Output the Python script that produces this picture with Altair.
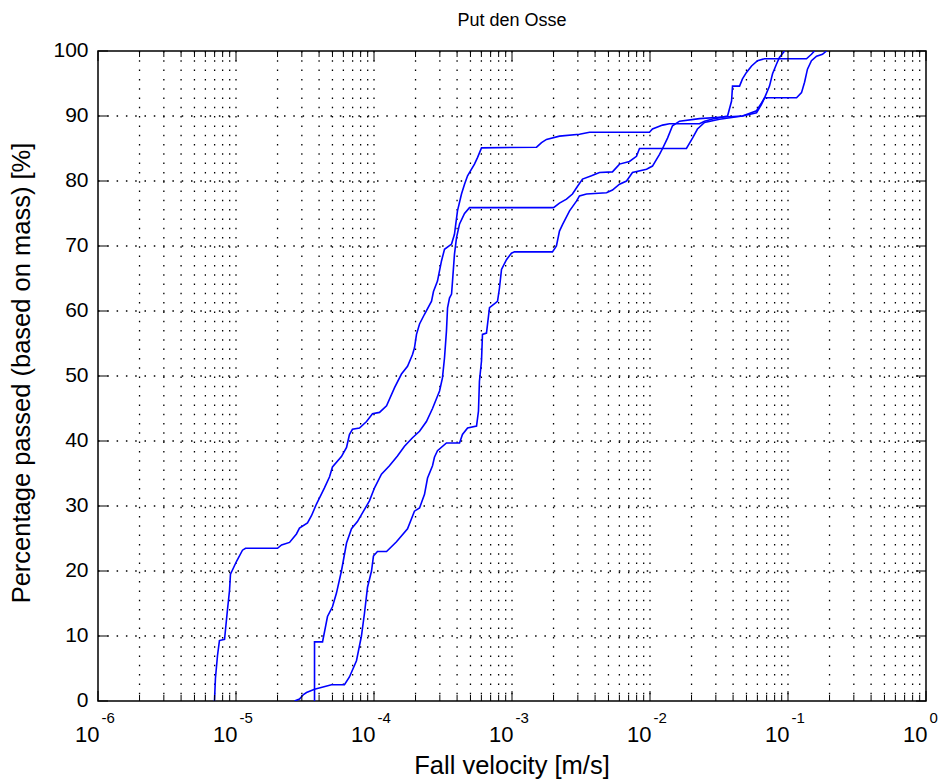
import altair as alt
import pandas as pd

# ---- data (log10 of fall velocity [m/s], percentage passed [%]) ----
a_log_v = [-5.156, -5.149, -5.134, -5.120, -5.083, -5.076, -5.062, -5.047, -5.040, -5.018, -4.996, -4.953,
           -4.931, -4.699, -4.670, -4.612, -4.562, -4.540, -4.482, -4.453, -4.417, -4.359, -4.322, -4.301,
           -4.236, -4.199, -4.178, -4.156, -4.105, -4.054, -4.011, -3.960, -3.909, -3.851, -3.801, -3.757,
           -3.721, -3.707, -3.692, -3.670, -3.634, -3.583, -3.569, -3.540, -3.511, -3.489, -3.438, -3.417,
           -3.395, -3.366, -3.344, -3.322, -3.272, -3.250, -3.221, -2.822, -2.786, -2.750, -2.656, -2.511,
           -2.438, -2.004, -1.982, -1.909, -1.859, -1.641, -1.605, -1.533, -1.438, -1.409, -1.402, -1.351,
           -1.330, -1.301, -1.264, -1.221, -1.170, -0.866, -0.830, -0.808]
a_pct = [0, 3.5, 7, 9.3, 9.5, 11, 14, 17, 19.5, 20.5, 21.5, 23.2,
         23.5, 23.5, 24, 24.4, 25.7, 26.6, 27.4, 28.5, 30.3, 32.8, 34.5, 36,
         37.6, 39, 41, 41.8, 42, 43, 44.2, 44.4, 45.4, 48.2, 50.3, 51.5,
         53.3, 54.3, 56.4, 58, 59.5, 61.5, 63, 64.6, 67.7, 69.5, 70.3, 71.8,
         75.4, 78, 79.5, 80.8, 82.6, 83.6, 85.1, 85.2, 85.9, 86.4, 86.9, 87.2,
         87.5, 87.5, 88, 88.6, 88.8, 88.8, 89.2, 89.6, 90, 92.3, 94.6, 94.6,
         95.7, 96.7, 97.7, 98.5, 98.8, 98.8, 99.5, 100]

b_log_v = [-4.431, -4.431, -4.373, -4.337, -4.301, -4.272, -4.236, -4.199, -4.163, -4.120, -4.076, -4.033,
           -3.996, -3.946, -3.888, -3.830, -3.779, -3.721, -3.670, -3.620, -3.576, -3.525, -3.504, -3.489,
           -3.475, -3.467, -3.453, -3.438, -3.431, -3.417, -3.402, -3.380, -3.344, -3.308, -2.699, -2.656,
           -2.605, -2.562, -2.525, -2.489, -2.424, -2.366, -2.272, -2.221, -2.149, -2.098, -2.076, -1.736,
           -1.692, -1.656, -1.605, -1.496, -1.330, -1.228, -1.192, -1.170, -1.134, -1.112, -1.083, -1.062,
           -1.025]
b_pct = [0, 9.1, 9.1, 13, 14.5, 16.6, 20, 24.3, 26.5, 27.6, 29.2, 30.8,
         32.8, 34.9, 36.2, 37.7, 39.2, 40.5, 41.5, 43, 45, 47.7, 49.7, 52.8,
         56.9, 60.5, 62, 62.6, 64.6, 68.7, 71.3, 73.4, 75, 75.9, 75.9, 76.6,
         77.2, 78, 79.2, 80.3, 80.8, 81.3, 81.4, 82.6, 83, 83.8, 85, 85,
         86.6, 88, 89, 89.5, 90, 90.5, 91.8, 92.8, 94.6, 96.5, 98, 99,
         100]

c_log_v = [-4.576, -4.540, -4.511, -4.489, -4.431, -4.308, -4.214, -4.178, -4.127, -4.091, -4.069, -4.047,
           -4.018, -4.004, -3.975, -3.909, -3.837, -3.757, -3.707, -3.670, -3.634, -3.612, -3.576, -3.562,
           -3.540, -3.475, -3.380, -3.359, -3.322, -3.257, -3.243, -3.236, -3.221, -3.214, -3.185, -3.163,
           -3.105, -3.091, -3.076, -3.040, -3.004, -2.982, -2.707, -2.678, -2.656, -2.634, -2.583, -2.533,
           -2.511, -2.460, -2.315, -2.272, -2.221, -2.170, -2.127, -2.025, -1.982, -1.931, -1.909, -1.873,
           -1.837, -1.786, -1.641, -1.496, -1.330, -1.228, -1.192, -1.170, -0.938, -0.902, -0.880, -0.859,
           -0.830, -0.793, -0.750, -0.721]
c_pct = [0, 0.3, 1, 1.3, 1.8, 2.5, 2.5, 3.7, 6.2, 10, 13.5, 17.5,
         20, 22.3, 23, 23, 24.5, 26.5, 29.2, 29.7, 31.8, 34.3, 36.2, 37.5,
         38.5, 39.7, 39.7, 41, 42, 42.3, 44.6, 49.2, 52.3, 56.4, 56.6, 60.5,
         61.5, 63.5, 66.4, 67.9, 68.9, 69.1, 69.1, 70, 72.3, 73.3, 75.4, 76.9,
         77.7, 78, 78.2, 78.6, 79.5, 80, 81.3, 81.8, 82.3, 84.1, 85, 86.6,
         88.5, 89.2, 89.6, 89.8, 90, 90.8, 92, 92.8, 92.8, 93.6, 95.2, 97.2,
         98.5, 99.2, 99.5, 100]

x_exponents = ["-6", "-5", "-4", "-3", "-2", "-1", "0"]
y_ticks = [0, 10, 20, 30, 40, 50, 60, 70, 80, 90, 100]
title_text = "Put den Osse"
x_title = "Fall velocity [m/s]"
y_title = "Percentage passed (based on mass) [%]"

# ---- tables ----
rows = []
for name, lv, pc in [("A", a_log_v, a_pct), ("B", b_log_v, b_pct), ("C", c_log_v, c_pct)]:
    for i, (l, p) in enumerate(zip(lv, pc)):
        rows.append({"sample": name, "velocity": 10.0 ** l, "pct": p, "idx": i})
df = pd.DataFrame(rows)

major = [10.0 ** int(e) for e in x_exponents]
minor = [m * 10.0 ** int(e) for e in x_exponents[:-1] for m in range(2, 10)]
major_df = pd.DataFrame({"v": major, "base": ["10"] * len(major), "exp": x_exponents})
minor_df = pd.DataFrame({"v": minor})
xgrid_df = pd.DataFrame({"v": sorted(major[1:-1] + minor)})
yt_df = pd.DataFrame({"p": y_ticks, "lab": [str(t) for t in y_ticks]})
ygrid_df = pd.DataFrame({"p": y_ticks[1:-1]})
text_df = pd.DataFrame({"t": [title_text], "xt": [x_title], "yt": [y_title]})

W, H = 828, 650
FONT = "Liberation Sans"
xs = alt.Scale(type="log", domain=[1e-6, 1], nice=False)
ys = alt.Scale(domain=[0, 100], nice=False, zero=False)
DOT = [1.5, 7.8]

xenc = alt.X("v:Q", scale=xs, axis=None)
yenc = alt.Y("p:Q", scale=ys, axis=None)

# dotted grid
xgrid = alt.Chart(xgrid_df).mark_rule(color="black", strokeWidth=1.3, strokeDash=DOT).encode(
    x=xenc, y=alt.value(0), y2=alt.value(H))
ygrid = alt.Chart(ygrid_df).mark_rule(color="black", strokeWidth=1.3, strokeDash=DOT).encode(
    y=yenc, x=alt.value(0), x2=alt.value(W))

lines = alt.Chart(df).mark_line(color="#0000ff", strokeWidth=1.6, clip=True).encode(
    x=alt.X("velocity:Q", scale=xs, axis=None),
    y=alt.Y("pct:Q", scale=ys, axis=None),
    detail="sample:N",
    order="idx:Q",
)

# inward ticks on all four sides
bot_major = alt.Chart(major_df).mark_rule(color="black", strokeWidth=1).encode(
    x=xenc, y=alt.value(H), y2=alt.value(H - 10))
top_major = alt.Chart(major_df).mark_rule(color="black", strokeWidth=1).encode(
    x=xenc, y=alt.value(0), y2=alt.value(10))
bot_minor = alt.Chart(minor_df).mark_rule(color="black", strokeWidth=1).encode(
    x=xenc, y=alt.value(H), y2=alt.value(H - 6))
top_minor = alt.Chart(minor_df).mark_rule(color="black", strokeWidth=1).encode(
    x=xenc, y=alt.value(0), y2=alt.value(6))
left_ticks = alt.Chart(yt_df).mark_rule(color="black", strokeWidth=1).encode(
    y=yenc, x=alt.value(0), x2=alt.value(10))
right_ticks = alt.Chart(yt_df).mark_rule(color="black", strokeWidth=1).encode(
    y=yenc, x=alt.value(W), x2=alt.value(W - 10))

# tick labels
base_lab = alt.Chart(major_df).mark_text(align="right", baseline="alphabetic", dx=1.5, font=FONT,
                                         fontSize=22, color="black").encode(
    x=xenc, y=alt.value(H + 41), text="base:N")
exp_lab = alt.Chart(major_df).mark_text(align="left", baseline="alphabetic", dx=3.5, font=FONT,
                                        fontSize=15, color="black").encode(
    x=xenc, y=alt.value(H + 22), text="exp:N")
y_lab = alt.Chart(yt_df).mark_text(align="right", baseline="middle", font=FONT, fontSize=21,
                                   color="black").encode(
    y=yenc, x=alt.value(-9.5), text="lab:N")

# titles
main_title = alt.Chart(text_df).mark_text(align="center", baseline="alphabetic", font=FONT,
                                          fontSize=18, color="black").encode(
    x=alt.value(W / 2), y=alt.value(-25), text="t:N")
x_title_mark = alt.Chart(text_df).mark_text(align="center", baseline="alphabetic", font=FONT,
                                            fontSize=25.5, color="black").encode(
    x=alt.value(W / 2), y=alt.value(H + 73), text="xt:N")
y_title_mark = alt.Chart(text_df).mark_text(align="center", baseline="middle", angle=270, font=FONT,
                                            fontSize=25.5, color="black").encode(
    x=alt.value(-76), y=alt.value(H / 2 - 3), text="yt:N")

chart = alt.layer(
    xgrid, ygrid, lines, bot_major, top_major, bot_minor, top_minor, left_ticks, right_ticks,
    base_lab, exp_lab, y_lab, main_title, x_title_mark, y_title_mark
).properties(
    width=W, height=H,
    autosize=alt.AutoSizeParams(type="none"),
    padding={"left": 98, "top": 51, "right": 20, "bottom": 79},
    background="white",
).configure_view(stroke="black", strokeWidth=1.5)

chart.save("out.html", embed_options={"renderer": "svg", "actions": False})
